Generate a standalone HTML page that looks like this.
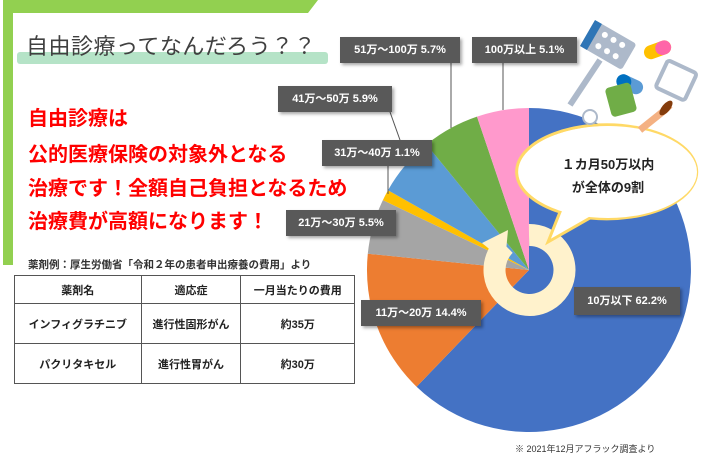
<!DOCTYPE html>
<html><head><meta charset="utf-8"><style>
body{margin:0;width:727px;height:466px;background:#fff;overflow:hidden;position:relative;font-family:"Liberation Sans","Noto Sans CJK JP",sans-serif}
.a{position:absolute}
.lab{position:absolute;background:#595959;color:#fff;font-weight:bold;font-size:11px;height:26px;line-height:26px;text-align:center;box-shadow:2px 2px 3px rgba(0,0,0,.35);white-space:nowrap}
.red{position:absolute;left:28px;color:#f00;font-weight:bold;font-size:20px;white-space:nowrap}
table{border-collapse:collapse;position:absolute;left:14px;top:275px;width:341px}
td{border:1.5px solid #555;text-align:center;font-size:11px;font-weight:bold;color:#222}
</style></head><body>
<svg class="a" style="left:0;top:0" width="727" height="466">
<polygon points="0,0 318,0 308,13 13,13 13,265 3,265 3,0" fill="#92d050"/>
<rect x="17" y="52" width="311" height="12" rx="3" fill="#b5e3c7"/>
<path d="M529,270 L529,108 A162,162 0 1 1 416.6,386.7 Z" fill="#4472c4"/>
<path d="M529,270 L416.6,386.7 A162,162 0 0 1 367.8,253.7 Z" fill="#ed7d31"/>
<path d="M529,270 L367.8,253.7 A162,162 0 0 1 382.9,200.1 Z" fill="#a5a5a5"/>
<path d="M529,270 L382.9,200.1 A162,162 0 0 1 388,190.2 Z" fill="#ffc000"/>
<path d="M529,270 L388,190.2 A162,162 0 0 1 426.5,144.5 Z" fill="#5b9bd5"/>
<path d="M529,270 L426.5,144.5 A162,162 0 0 1 477,116.6 Z" fill="#70ad47"/>
<path d="M529,270 L477,116.6 A162,162 0 0 1 529,108 Z" fill="#ff99cc"/>
<path d="M505,245 A35,35 0 1 0 529,235" fill="none" stroke="#fff2cc" stroke-width="22"/>
<polygon points="482,243 508,230 505,262" fill="#fff2cc"/>
<g stroke="#555" stroke-width="1" fill="none">
<line x1="451" y1="63" x2="451" y2="128"/><line x1="503" y1="63" x2="503" y2="110"/>
<line x1="390" y1="112" x2="400" y2="140"/><line x1="388" y1="166" x2="388" y2="194"/>
</g>
<path d="M548,242 L560,212 A90,47 0 1 1 590,218 Z" fill="#fff" stroke="#ffd966" stroke-width="3"/>
<ellipse cx="608" cy="172" rx="89" ry="46" fill="#fff"/>
<g transform="translate(595,20) rotate(30)"><rect width="48" height="30" rx="3" fill="#adb9ca"/><rect width="8" height="30" fill="#2e75b6"/>
<g fill="#fff"><circle cx="16" cy="8" r="3"/><circle cx="26" cy="8" r="3"/><circle cx="36" cy="8" r="3"/><circle cx="16" cy="21" r="3"/><circle cx="26" cy="21" r="3"/><circle cx="36" cy="21" r="3"/></g></g>
<g transform="translate(642,48) rotate(-20)"><rect width="28" height="14" rx="7" fill="#ffc000"/><rect x="12" width="16" height="14" rx="7" fill="#ff66a8"/></g>
<g transform="translate(620,72) rotate(25)"><rect width="28" height="14" rx="7" fill="#5b9bd5"/><rect width="15" height="14" rx="7" fill="#0070c0"/></g>
<g transform="translate(668,60) rotate(25)"><rect width="32" height="30" rx="3" fill="#fff" stroke="#adb9ca" stroke-width="4"/></g>
<rect x="608" y="85" width="26" height="30" rx="4" fill="#70ad47" transform="rotate(-15 620 100)"/>
<line x1="600" y1="60" x2="570" y2="105" stroke="#adb9ca" stroke-width="6"/>
<circle cx="590" cy="117" r="7" fill="#fff" stroke="#adb9ca" stroke-width="2"/>
<path d="M640,130 L665,110 L670,105" stroke="#f4b183" stroke-width="7" fill="none"/><ellipse cx="666" cy="108" rx="4" ry="9" fill="#843c0c" transform="rotate(40 666 108)"/>
</svg>
<div class="a" style="left:26px;top:29px;font-size:22px;color:#404040;letter-spacing:0.5px">自由診療ってなんだろう？？</div>
<div class="red" style="top:102px">自由診療は</div>
<div class="red" style="top:138px">公的医療保険の対象外となる</div>
<div class="red" style="top:172px">治療です！全額自己負担となるため</div>
<div class="red" style="top:205px">治療費が高額になります！</div>
<div class="a" style="left:28px;top:257px;font-size:10.5px;font-weight:bold;color:#333">薬剤例：厚生労働省「令和２年の患者申出療養の費用」より</div>
<table><tr style="height:28px"><td>薬剤名</td><td>適応症</td><td>一月当たりの費用</td></tr>
<tr style="height:40px"><td>インフィグラチニブ</td><td>進行性固形がん</td><td>約35万</td></tr>
<tr style="height:40px"><td>パクリタキセル</td><td>進行性胃がん</td><td>約30万</td></tr></table>
<div class="lab" style="left:340px;top:37px;width:120px">51万～100万 5.7%</div>
<div class="lab" style="left:472px;top:37px;width:105px">100万以上 5.1%</div>
<div class="lab" style="left:278px;top:86px;width:114px">41万～50万 5.9%</div>
<div class="lab" style="left:322px;top:140px;width:110px">31万～40万 1.1%</div>
<div class="lab" style="left:286px;top:210px;width:110px">21万～30万 5.5%</div>
<div class="lab" style="left:361px;top:300px;width:120px">11万～20万 14.4%</div>
<div class="lab" style="left:574px;top:287px;width:106px;height:28px;line-height:28px">10万以下 62.2%</div>
<div class="a" style="left:545px;top:153px;width:126px;text-align:center;font-size:13px;font-weight:bold;line-height:23px;color:#222">１カ月50万以内<br>が全体の9割</div>
<div class="a" style="left:515px;top:442px;font-size:9px;color:#333">※ 2021年12月アフラック調査より</div>
</body></html>
